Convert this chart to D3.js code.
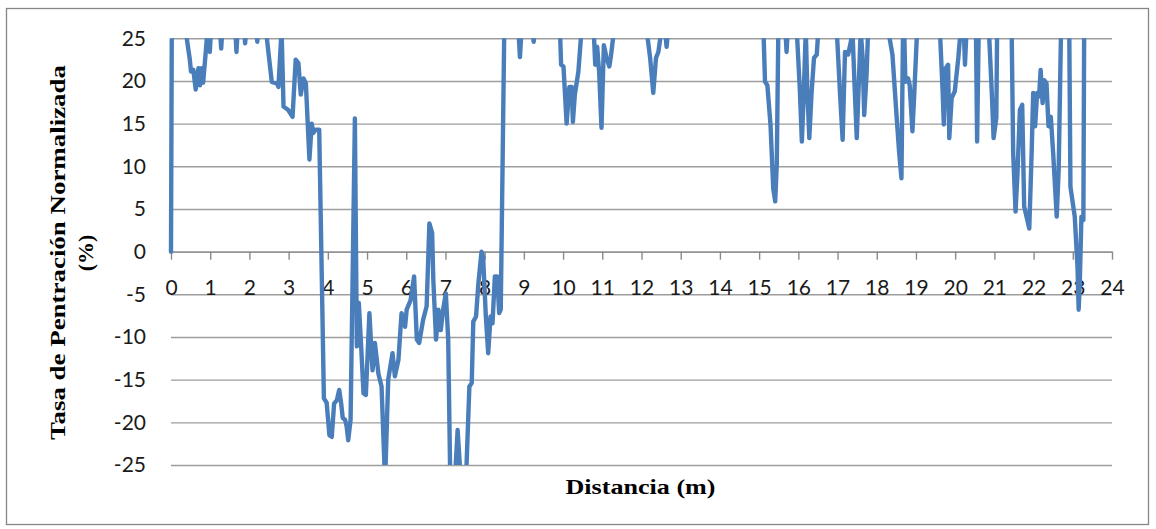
<!DOCTYPE html>
<html>
<head>
<meta charset="utf-8">
<script src="https://cdn.jsdelivr.net/npm/d3@7/dist/d3.min.js"></script>
<style>
  html, body { margin: 0; padding: 0; background: #fff; }
  svg { display: block; }
</style>
</head>
<body>
<svg id="chart" width="1156" height="529"></svg>
<script>
// ---- Data (values outside ±25 are clipped by the axis range) ----
const distance = [
  0.00, 0.02, 0.37, 0.48, 0.51, 0.57, 0.63, 0.70, 0.74, 0.78, 0.82, 0.89, 0.93,
  0.96, 0.99, 1.02, 1.25, 1.28, 1.31, 1.64, 1.67, 1.70, 1.87, 1.89, 1.92, 2.18, 2.20, 2.23,
  2.42, 2.57, 2.70, 2.74, 2.82, 2.87, 2.99, 3.10, 3.18, 3.25, 3.31, 3.38, 3.44, 3.53, 3.59,
  3.63, 3.69, 3.78, 3.90, 3.97, 4.04, 4.10, 4.16, 4.23, 4.29, 4.34, 4.38, 4.44, 4.48, 4.52,
  4.58, 4.69, 4.74, 4.79, 4.85, 4.91, 4.97, 5.06, 5.14, 5.20, 5.29, 5.37, 5.46, 5.54, 5.65,
  5.71, 5.80, 5.88, 5.97, 6.01, 6.11, 6.20, 6.27, 6.33, 6.43, 6.52, 6.59, 6.66, 6.69, 6.76,
  6.82, 6.88, 6.94, 7.01, 7.07, 7.12, 7.25, 7.31, 7.38, 7.53, 7.61, 7.67, 7.71, 7.78, 7.84,
  7.92, 7.96, 8.03, 8.09, 8.15, 8.20, 8.26, 8.32, 8.37, 8.41, 8.50,
  8.86, 8.90, 8.94, 9.22, 9.25, 9.28,
  9.92, 9.95, 10.01, 10.09, 10.16, 10.22, 10.25, 10.30, 10.39, 10.47,
  10.78, 10.82, 10.87, 10.92, 10.98, 11.04, 11.11, 11.18, 11.22, 11.30,
  12.13, 12.22, 12.30, 12.37, 12.43, 12.51, 12.60, 12.64, 12.68,
  15.11, 15.15, 15.21, 15.29, 15.36, 15.41, 15.45, 15.49, 15.67, 15.70, 15.73,
  15.96, 16.04, 16.09, 16.14, 16.19, 16.23, 16.28, 16.34, 16.40, 16.47, 16.51,
  16.98, 17.06, 17.13, 17.19, 17.27, 17.34, 17.38, 17.44, 17.49, 17.55, 17.59, 17.64, 17.68, 17.74, 17.78,
  18.29, 18.40, 18.51, 18.57, 18.63, 18.67, 18.70, 18.73, 18.80, 18.84, 18.91, 18.96, 19.03,
  19.61, 19.68, 19.71, 19.76, 19.82, 19.85, 19.91, 19.99, 20.08, 20.14, 20.22, 20.25, 20.29,
  20.53, 20.56, 20.60,
  20.86, 20.94, 20.98, 21.05, 21.07,
  21.44, 21.48, 21.54, 21.59, 21.65, 21.71, 21.76, 21.89, 21.95, 21.99, 22.04, 22.09, 22.14,
  22.18, 22.23, 22.27, 22.33, 22.38, 22.44, 22.50, 22.59, 22.64, 22.70,
  22.91, 22.94, 23.05, 23.12, 23.15, 23.18, 23.22, 23.27, 23.29
];
const rate = [
  0, 26, 26, 22.5, 21.1, 21.3, 19.0, 21.5, 19.5, 21.5, 19.8, 23.6, 26,
  26, 23.4, 26, 26, 23.8, 26, 26, 23.4, 26, 26, 24.4, 26, 26, 24.6, 26,
  26, 19.9, 19.7, 19.3, 26, 17.0, 16.6, 15.8, 22.5, 22.1, 18.4, 20.3, 19.7, 10.8, 15.0,
  13.9, 14.3, 14.3, -17.2, -17.7, -21.5, -21.7, -17.8, -17.4, -16.2, -17.8, -19.5, -19.7, -20.5, -22.1,
  -19.7, 15.6, -11.1, -6.0, -11.1, -16.6, -16.8, -7.2, -13.9, -10.7, -14.3, -15.8, -27, -15.0, -11.9,
  -14.6, -12.7, -7.2, -8.8, -6.8, -5.7, -2.9, -10.3, -10.7, -8.0, -6.4, 3.3, 2.2, -3.3, -10.3,
  -6.8, -9.2, -6.8, -4.9, -10.3, -26, -26, -20.9, -26, -26, -15.8, -15.4, -8.2, -7.6, -3.7,
  0, -0.6, -7.6, -11.9, -7.6, -8.4, -2.9, -2.9, -7.2, -6.8, 26,
  26, 22.8, 26, 26, 24.6, 26,
  26, 21.9, 21.7, 15.0, 19.3, 19.3, 15.2, 18.4, 21.1, 26,
  26, 21.9, 24.0, 21.0, 14.5, 24.2, 22.7, 21.7, 22.9, 26,
  26, 22.7, 18.6, 22.7, 23.4, 26, 26, 24.0, 26,
  26, 19.9, 19.5, 14.9, 7.4, 5.9, 10.2, 26, 26, 23.4, 26,
  26, 18.8, 12.9, 18.8, 26, 18.8, 13.3, 18.8, 22.7, 23.1, 26,
  26, 18.8, 13.1, 23.4, 23.1, 24.6, 26, 18.8, 13.3, 20.7, 26, 22.7, 16.0, 20.7, 26,
  26, 23.1, 15.6, 11.7, 8.6, 26, 26, 19.9, 20.3, 19.5, 14.1, 18.8, 26,
  26, 18.8, 14.9, 21.5, 21.9, 13.3, 18.0, 18.8, 22.7, 26, 26, 21.9, 26,
  26, 12.9, 26,
  26, 18.0, 13.3, 15.7, 26,
  26, 11.5, 4.7, 9.2, 16.6, 17.2, 5.3, 2.7, 11.5, 18.6, 14.7, 18.6, 18.2,
  21.3, 17.4, 20.1, 19.7, 14.7, 15.8, 11.5, 4.1, 9.6, 26,
  26, 7.6, 4.1, -1.8, -6.8, -3.3, 4.1, 3.7, 26
];
const xTicks = d3.range(0, 25, 1);
const yTicks = [25, 20, 15, 10, 5, 0, -5, -10, -15, -20, -25];
const xTitle = "Distancia (m)";
const yTitle1 = "Tasa de Pentración Normalizada";
const yTitle2 = "(%)";

// ---- Layout ----
const svg = d3.select("#chart");
const plotLeft = 171, plotRight = 1112, plotTop = 38.3, plotBottom = 465;
const x = d3.scaleLinear().domain([0, 24]).range([plotLeft, plotRight]);
const y = d3.scaleLinear().domain([-25, 25]).range([plotBottom, plotTop]);

// outer chart border
svg.append("rect")
  .attr("x", 6.5).attr("y", 8.5).attr("width", 1142).attr("height", 516)
  .attr("fill", "#fff").attr("stroke", "#868686").attr("stroke-width", 1.3);

// gridlines + y labels
const yAxis = d3.axisLeft(y).tickValues(yTicks).tickSize(-(plotRight - plotLeft))
  .tickPadding(25).tickFormat(d => String(d));
const gy = svg.append("g").attr("transform", `translate(${plotLeft},0)`).call(yAxis);
gy.select(".domain").remove();
gy.selectAll(".tick line").attr("stroke", "#9d9d9d").attr("stroke-width", 1.4);
gy.selectAll(".tick text")
  .attr("font-family", "Lato, 'Open Sans', sans-serif")
  .attr("font-size", 21).attr("fill", "#1a1a1a");

// x axis at zero
const xAxis = d3.axisBottom(x).tickValues(xTicks).tickSizeInner(8).tickSizeOuter(0)
  .tickPadding(20).tickFormat(d => String(d));
const gx = svg.append("g").attr("transform", `translate(0,${y(0)})`).call(xAxis);
gx.select(".domain").attr("stroke", "#8a8a8a").attr("stroke-width", 1.4);
gx.selectAll(".tick line").attr("stroke", "#8a8a8a").attr("stroke-width", 1.4);
gx.selectAll(".tick text")
  .attr("font-family", "Lato, 'Open Sans', sans-serif")
  .attr("font-size", 21).attr("fill", "#1a1a1a");

// clip
svg.append("clipPath").attr("id", "plotClip")
  .append("rect").attr("x", plotLeft - 5).attr("y", plotTop)
  .attr("width", plotRight - plotLeft + 10).attr("height", plotBottom - plotTop);

const pts = distance.map((d, i) => [d, rate[i]]);
const line = d3.line().x(d => x(d[0])).y(d => y(d[1]));
svg.append("path")
  .datum(pts)
  .attr("clip-path", "url(#plotClip)")
  .attr("d", line)
  .attr("fill", "none")
  .attr("stroke", "#4a7ebb")
  .attr("stroke-width", 4.4)
  .attr("stroke-linejoin", "round")
  .attr("stroke-linecap", "round");

// titles
const titleFont = "'Liberation Serif', 'Times New Roman', serif";
svg.append("text")
  .attr("x", 640.5).attr("y", 494)
  .attr("text-anchor", "middle")
  .attr("font-family", titleFont).attr("font-weight", "bold").attr("font-size", 22)
  .attr("textLength", 150).attr("lengthAdjust", "spacingAndGlyphs")
  .text(xTitle);
svg.append("text")
  .attr("transform", "translate(65,252.5) rotate(-90)")
  .attr("text-anchor", "middle")
  .attr("font-family", titleFont).attr("font-weight", "bold").attr("font-size", 22)
  .attr("textLength", 375).attr("lengthAdjust", "spacingAndGlyphs")
  .text(yTitle1);
svg.append("text")
  .attr("transform", "translate(93,253) rotate(-90)")
  .attr("text-anchor", "middle")
  .attr("font-family", titleFont).attr("font-weight", "bold").attr("font-size", 22)
  .text(yTitle2);
</script>
</body>
</html>
